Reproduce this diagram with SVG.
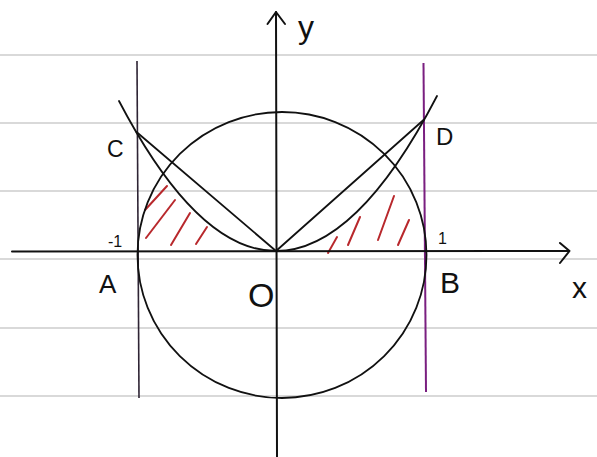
<svg xmlns="http://www.w3.org/2000/svg" width="597" height="457" viewBox="0 0 597 457">
  <style>
    .rule { stroke: #cdcdcd; stroke-width: 1.5; fill: none; }
    .axis { stroke: #111; stroke-width: 2; fill: none; stroke-linecap: round; stroke-linejoin: round; }
    .curve { stroke: #111; stroke-width: 1.8; fill: none; stroke-linecap: round; }
    .hatch { stroke: #b8282c; stroke-width: 2; stroke-linecap: round; fill: none; }
    .lbl { font-family: "Liberation Sans", "DejaVu Sans", sans-serif; fill: #111; }
  </style>
  <rect width="597" height="457" fill="#ffffff"/>
  <g id="ruled-lines">
    <line class="rule" x1="0" y1="55" x2="597" y2="55"/>
    <line class="rule" x1="0" y1="123" x2="597" y2="123"/>
    <line class="rule" x1="0" y1="191" x2="597" y2="191"/>
    <line class="rule" x1="0" y1="259" x2="597" y2="259"/>
    <line class="rule" x1="0" y1="328" x2="597" y2="328"/>
    <line class="rule" x1="0" y1="396" x2="597" y2="396"/>
  </g>
  <g id="hatching">
    <line class="hatch" x1="145" y1="210" x2="167" y2="186"/>
    <line class="hatch" x1="146" y1="238" x2="175" y2="200"/>
    <line class="hatch" x1="171" y1="245" x2="190" y2="213"/>
    <line class="hatch" x1="196" y1="244" x2="207" y2="227"/>
    <line class="hatch" x1="328" y1="253" x2="337" y2="237"/>
    <line class="hatch" x1="348" y1="245" x2="360" y2="217"/>
    <line class="hatch" x1="378" y1="240" x2="394" y2="196"/>
    <line class="hatch" x1="398" y1="245" x2="409" y2="220"/>
  </g>
  <g id="vertical-lines">
    <line x1="137" y1="61" x2="139" y2="398" stroke="#2e2434" stroke-width="1.6"/>
    <line x1="423.5" y1="63" x2="426" y2="392" stroke="#7a1f80" stroke-width="2"/>
  </g>
  <g id="circle">
    <ellipse class="curve" cx="282" cy="255" rx="144.5" ry="143"/>
  </g>
  <g id="parabola">
    <path class="curve" d="M119,101 Q197.5,251 276,251 Q356.5,251 437,96"/>
  </g>
  <g id="lines">
    <line class="curve" x1="136.5" y1="132" x2="276" y2="251"/>
    <line class="curve" x1="276" y1="251" x2="423.5" y2="120"/>
  </g>
  <g id="axes">
    <line class="axis" x1="12" y1="251.5" x2="569" y2="251"/>
    <polyline class="axis" points="560,243 569.5,251 560,263"/>
    <line class="axis" x1="277" y1="457" x2="276" y2="12"/>
    <polyline class="axis" points="267.5,24 276,12 285,24"/>
  </g>
  <g id="labels">
    <text class="lbl" x="298" y="38" font-size="32">y</text>
    <text class="lbl" x="572" y="298" font-size="30">x</text>
    <text class="lbl" x="107" y="157" font-size="23">C</text>
    <text class="lbl" x="436" y="145" font-size="24">D</text>
    <text class="lbl" x="108" y="247" font-size="16">-1</text>
    <text class="lbl" x="438" y="244" font-size="16">1</text>
    <text class="lbl" x="99" y="293" font-size="26">A</text>
    <text class="lbl" x="440" y="293" font-size="30">B</text>
    <text class="lbl" x="248" y="307" font-size="34">O</text>
  </g>
</svg>
